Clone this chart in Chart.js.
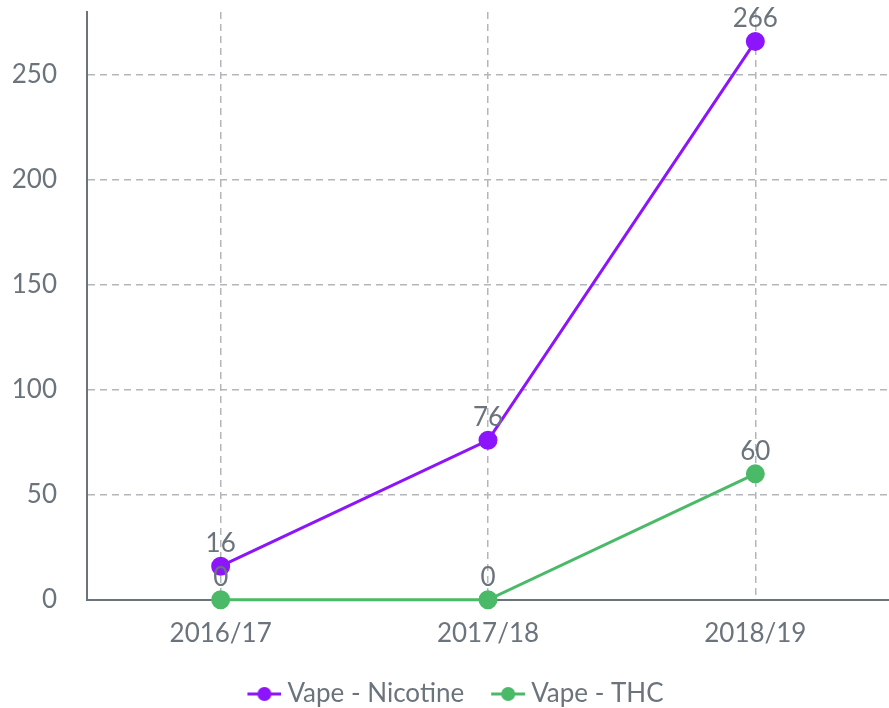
<!DOCTYPE html>
<html>
<head>
<meta charset="utf-8">
<script src="https://cdn.jsdelivr.net/npm/chart.js@4.4.1/dist/chart.umd.min.js"></script>
<style>
  html, body { margin: 0; padding: 0; background: #fff; }
  #wrap { width: 889px; height: 708px; }
</style>
</head>
<body>
<div id="wrap"><canvas id="chart"></canvas></div>
<script>
// Data
const years = ['2016/17', '2017/18', '2018/19'];
const nicotine = [16, 76, 266];
const thc = [0, 0, 60];
const seriesNames = ['Vape - Nicotine', 'Vape - THC'];
const yTicks = [0, 50, 100, 150, 200, 250];

const PURPLE = '#8c15fb';
const GREEN = '#4aba68';
const TEXT = '#6b737c';
const GRID = '#b3b6ba';
const FONT = 'Lato, "Open Sans", sans-serif';
const FS = 26;

// legend marker: short line with a dot, transparent room on the left
function markerImg(color){
    const c = document.createElement('canvas');
    c.width = 54; c.height = 18;
    const g = c.getContext('2d');
    g.strokeStyle = color; g.lineWidth = 3;
    g.beginPath(); g.moveTo(20, 9); g.lineTo(54, 9); g.stroke();
    g.fillStyle = color;
    g.beginPath(); g.arc(37, 9, 7, 0, Math.PI * 2); g.fill();
    return c;
}

// value labels above each point
const valueLabels = {
    id: 'valueLabels',
    afterDatasetsDraw(chart){
        const ctx = chart.ctx;
        ctx.save();
        ctx.font = FS + 'px ' + FONT;
        ctx.fillStyle = TEXT;
        ctx.textAlign = 'center';
        ctx.textBaseline = 'alphabetic';
        chart.data.datasets.forEach((ds, i) => {
            chart.getDatasetMeta(i).data.forEach((pt, j) => {
                ctx.fillText(String(ds.data[j]), pt.x, pt.y - 14);
            });
        });
        ctx.restore();
    }
};

new Chart(document.getElementById('chart'), {
    type: 'line',
    data: {
        labels: years,
        datasets: [
            { label: seriesNames[0], data: nicotine, borderColor: PURPLE, backgroundColor: PURPLE,
              borderWidth: 3, pointRadius: 8, pointHoverRadius: 8, tension: 0, clip: false },
            { label: seriesNames[1], data: thc, borderColor: GREEN, backgroundColor: GREEN,
              borderWidth: 3, pointRadius: 8, pointHoverRadius: 8, tension: 0, clip: false }
        ]
    },
    options: {
        responsive: true,
        maintainAspectRatio: false,
        animation: false,
        layout: { autoPadding: false, padding: { top: 12, left: 0, right: -9, bottom: -9 } },
        plugins: {
            tooltip: { enabled: false },
            legend: {
                position: 'bottom',
                labels: {
                    usePointStyle: true,
                    pointStyleWidth: 40,
                    color: TEXT,
                    font: { family: FONT, size: FS },
                    padding: 14,
                    generateLabels(chart){
                        return chart.data.datasets.map((ds, i) => ({
                            text: ds.label,
                            fillStyle: ds.borderColor,
                            strokeStyle: ds.borderColor,
                            pointStyle: markerImg(ds.borderColor),
                            fontColor: TEXT,
                            hidden: false,
                            datasetIndex: i
                        }));
                    }
                }
            }
        },
        scales: {
            x: {
                offset: true,
                afterFit(scale){ scale.paddingLeft = 0; scale.paddingRight = 0; },
                grid: { display: true, color: GRID, lineWidth: 1.5, drawTicks: false },
                border: { display: true, color: TEXT, width: 2, dash: [7, 5] },
                ticks: { color: TEXT, font: { family: FONT, size: FS }, padding: 18 }
            },
            y: {
                min: 0, max: 280,
                afterBuildTicks(scale){
                    scale.ticks = yTicks.map(v => ({ value: v }));
                },
                afterFit(scale){ scale.width = 87; scale.paddingTop = 0; scale.paddingBottom = 0; },
                grid: { color: ctx => ctx.tick && ctx.tick.value === 0 ? 'rgba(0,0,0,0)' : GRID, lineWidth: 1.5, drawTicks: false },
                border: { display: true, color: TEXT, width: 2, dash: [7, 5] },
                ticks: { color: TEXT, font: { family: FONT, size: FS }, padding: 30 }
            }
        }
    },
    plugins: [valueLabels]
});
</script>
</body>
</html>
